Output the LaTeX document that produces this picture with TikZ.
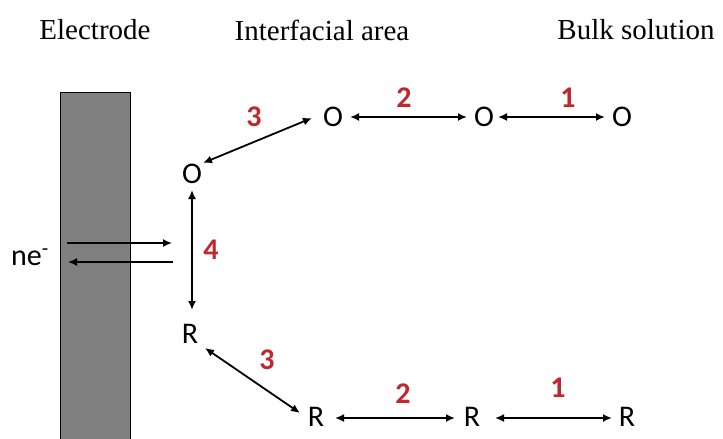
\documentclass[tikz,border=0pt]{standalone}
\usepackage{fontspec}
\setmainfont{Liberation Serif}
\newfontfamily\carl{Carlito}
\usetikzlibrary{arrows.meta}
\definecolor{numred}{HTML}{C0282D}
\definecolor{elgray}{HTML}{808080}
\tikzset{
  species/.style={font=\carl\fontsize{30}{30}\selectfont, inner sep=0pt},
  stepnum/.style={font=\carl\bfseries\fontsize{30}{30}\selectfont, text=numred, inner sep=0pt},
  header/.style={font=\fontsize{29}{29}\selectfont, inner sep=0pt},
  dbl/.style={{Latex[length=9pt,width=8pt]}-{Latex[length=9pt,width=8pt]}, line width=1.8pt},
  sgl/.style={-{Latex[length=9pt,width=8pt]}, line width=1.6pt},
}
\begin{document}
\begin{tikzpicture}[x=1pt,y=-1pt]
\useasboundingbox (0,0) rectangle (723,439);
% electrode
\path[draw=black, fill=elgray, line width=1pt] (60,92) rectangle (130,445);
% headers
\node[header] (hE) at (95,30) {Electrode};
\node[header] (hI) at (322,30) {Interfacial area};
\node[header] (hB) at (636,30) {Bulk solution};
% species
\node[species] (o1) at (333,117) {O};
\node[species] (o2) at (484,117) {O};
\node[species] (o3) at (622,117) {O};
\node[species] (oL) at (192,174) {O};
\node[species] (rL) at (190,334) {R};
\node[species] (r1) at (316,417) {R};
\node[species] (r2) at (472,417) {R};
\node[species] (r3) at (627,417) {R};
% arrows
\draw[dbl] ([xshift=17pt]o1.center) -- ([xshift=-17pt]o2.center);
\draw[dbl] ([xshift=14pt]o2.center) -- ([xshift=-17pt]o3.center);
\draw[dbl] ([xshift=-21pt,yshift=-1pt]o1.center) -- ([xshift=11pt,yshift=11pt]oL.center);
\draw[dbl] ([yshift=-16pt]oL.center) -- ([xshift=2pt,yshift=24pt]rL.center);
\draw[dbl] ([xshift=15pt,yshift=-14pt]rL.center) -- ([xshift=-16pt,yshift=4pt]r1.center);
\draw[dbl] ([xshift=19pt,yshift=-1pt]r1.center) -- ([xshift=-17pt,yshift=-1pt]r2.center);
\draw[dbl] ([xshift=23pt,yshift=-1pt]r2.center) -- ([xshift=-15pt,yshift=-1pt]r3.center);
% electron transfer
\coordinate (e1s) at (67,243);
\coordinate (e1e) at (172,243);
\coordinate (e2s) at (173,262);
\coordinate (e2e) at (68,262);
\draw[sgl] (e1s) -- (e1e);
\draw[sgl] (e2s) -- (e2e);
\node[font=\carl\fontsize{30}{30}\selectfont, inner sep=0pt, anchor=base west] (ne) at (11,265) {ne\textsuperscript{-}};
% step numbers
\node[stepnum] (n2t) at (404,98) {2};
\node[stepnum] (n1t) at (568,98) {1};
\node[stepnum] (n3t) at (254,117) {3};
\node[stepnum] (n4) at (211,250) {4};
\node[stepnum] (n3b) at (267,360) {3};
\node[stepnum] (n2b) at (403,394) {2};
\node[stepnum] (n1b) at (558,388) {1};
\end{tikzpicture}
\end{document}
